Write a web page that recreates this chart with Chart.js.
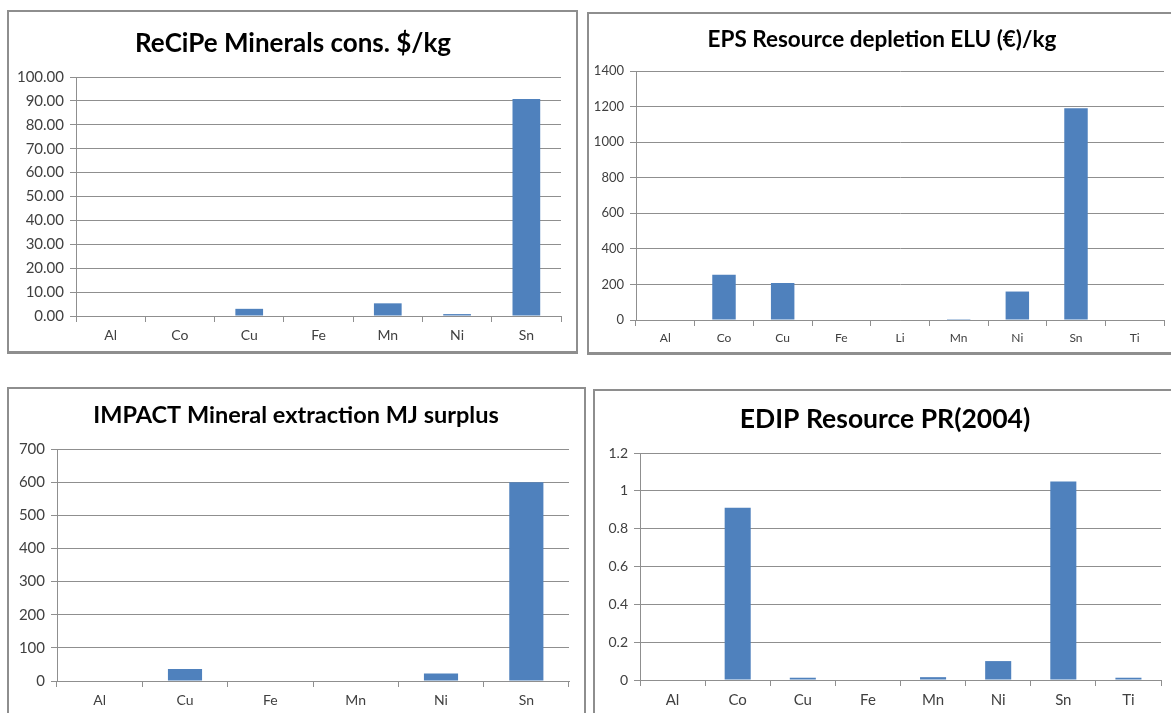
<!DOCTYPE html>
<html lang="en">
<head>
    <meta charset="UTF-8">
    <title>Mineral resource indicators</title>
    <script src="https://cdn.jsdelivr.net/npm/chart.js"></script>
    <style>
        body {
            margin: 0;
            width: 1171px;
            height: 713px;
            overflow: hidden;
            background: #ffffff;
            position: relative;
            font-family: Lato, "Liberation Sans", sans-serif;
        }
        .box {
            position: absolute;
            box-sizing: border-box;
            border: 2px solid #8e8e8e;
            border-bottom-width: 3px;
            background: #ffffff;
        }
        canvas {
            position: absolute;
        }
    </style>
</head>
<body>
    <div class="box" id="box1"></div>
    <div class="box" id="box2"></div>
    <div class="box" id="box3"></div>
    <div class="box" id="box4"></div>
    <canvas id="chart1"></canvas>
    <canvas id="chart2"></canvas>
    <canvas id="chart3"></canvas>
    <canvas id="chart4"></canvas>

    <script>
        // ReCiPe minerals consumption, $/kg
        const recipeLabels = ['Al', 'Co', 'Cu', 'Fe', 'Mn', 'Ni', 'Sn'];
        const recipeValues = [0, 0, 3.0, 0, 5.3, 0.8, 90.8];

        // EPS resource depletion, ELU (€)/kg
        const epsLabels = ['Al', 'Co', 'Cu', 'Fe', 'Li', 'Mn', 'Ni', 'Sn', 'Ti'];
        const epsValues = [0, 255, 208, 0, 0, 5, 160, 1190, 0];

        // IMPACT mineral extraction, MJ surplus
        const impactLabels = ['Al', 'Cu', 'Fe', 'Mn', 'Ni', 'Sn'];
        const impactValues = [0, 36, 0, 0, 23, 600];

        // EDIP resource, PR(2004)
        const edipLabels = ['Al', 'Co', 'Cu', 'Fe', 'Mn', 'Ni', 'Sn', 'Ti'];
        const edipValues = [0, 0.91, 0.012, 0, 0.015, 0.1, 1.05, 0.012];

        const barColor = '#4f81bd';
        const gridColor = '#8f8f8f';
        const tickColor = '#404040';

        // the y labels are clipped to the scale box, let them use the whole left margin
        const widenLabels = {
            id: 'widenLabels',
            afterLayout(chart) {
                chart.scales.y.left = 0;
            }
        };

        // box = frame on the page, plot = where the axes sit, title centre
        function makeChart(id, boxId, opts) {
            const box = opts.box;
            const W = box.r - box.l;
            const H = box.b - box.t;

            const frame = document.getElementById(boxId);
            frame.style.left = box.l + 'px';
            frame.style.top = box.t + 'px';
            frame.style.width = W + 'px';
            frame.style.height = H + 'px';

            const canvas = document.getElementById(id);
            canvas.width = W;
            canvas.height = H;
            canvas.style.left = box.l + 'px';
            canvas.style.top = box.t + 'px';
            canvas.style.width = W + 'px';
            canvas.style.height = H + 'px';

            const plotL = opts.plot.l - box.l;
            const plotR = opts.plot.r - box.l;
            const plotT = opts.plot.t - box.t;
            const plotB = opts.plot.b - box.t;
            const cx = opts.titleX - box.l;
            const cy = opts.titleY - box.t;

            const padL = 2 * cx - plotR;
            const padR = W - plotR;
            const yWidth = plotL - padL;
            const xHeight = 30;
            const padB = H - plotB - xHeight;
            const tTop = cy - 0.6 * opts.titleSize;
            const tBottom = plotT - tTop - 1.2 * opts.titleSize;

            return new Chart(canvas.getContext('2d'), {
                type: 'bar',
                data: {
                    labels: opts.labels,
                    datasets: [{
                        data: opts.values,
                        backgroundColor: barColor,
                        borderWidth: 0,
                        barPercentage: 0.4,
                        categoryPercentage: 1.0
                    }]
                },
                plugins: [widenLabels],
                options: {
                    responsive: false,
                    animation: false,
                    layout: {
                        padding: { left: padL, right: padR, top: 0, bottom: padB }
                    },
                    plugins: {
                        legend: { display: false },
                        tooltip: { enabled: false },
                        title: {
                            display: true,
                            text: opts.title,
                            color: '#000000',
                            font: { family: 'Lato', size: opts.titleSize, weight: 'bold', lineHeight: 1.2 },
                            padding: { top: tTop, bottom: tBottom }
                        }
                    },
                    scales: {
                        x: {
                            afterFit: (scale) => { scale.height = xHeight; },
                            grid: {
                                drawOnChartArea: false,
                                drawTicks: true,
                                tickLength: 6,
                                color: gridColor
                            },
                            border: { display: true, color: gridColor, width: 1 },
                            ticks: {
                                color: tickColor,
                                padding: 5,
                                font: { family: 'Lato', size: opts.xTickSize }
                            }
                        },
                        y: {
                            min: 0,
                            max: opts.yMax,
                            afterFit: (scale) => { scale.width = yWidth; },
                            grid: {
                                color: gridColor,
                                tickLength: 6
                            },
                            border: { display: true, color: gridColor, width: 1 },
                            ticks: {
                                stepSize: opts.yStep,
                                color: tickColor,
                                padding: 6,
                                font: { family: 'Lato', size: opts.yTickSize },
                                callback: opts.format
                            }
                        }
                    }
                }
            });
        }

        makeChart('chart1', 'box1', {
            labels: recipeLabels,
            values: recipeValues,
            title: 'ReCiPe Minerals cons. $/kg',
            titleSize: 26,
            xTickSize: 14,
            yTickSize: 15,
            yMax: 100,
            yStep: 10,
            format: (v) => Number(v).toFixed(2),
            box: { l: 7, t: 10, r: 578, b: 354 },
            plot: { l: 76, t: 77, r: 561, b: 316 },
            titleX: 293,
            titleY: 44
        });

        makeChart('chart2', 'box2', {
            labels: epsLabels,
            values: epsValues,
            title: 'EPS Resource depletion ELU (€)/kg',
            titleSize: 22.5,
            xTickSize: 12,
            yTickSize: 13,
            yMax: 1400,
            yStep: 200,
            format: (v) => String(Math.round(v)),
            box: { l: 587, t: 12, r: 1180, b: 355 },
            plot: { l: 636, t: 71, r: 1164, b: 320 },
            titleX: 882,
            titleY: 40
        });

        makeChart('chart3', 'box3', {
            labels: impactLabels,
            values: impactValues,
            title: 'IMPACT Mineral extraction MJ surplus',
            titleSize: 23.5,
            xTickSize: 14,
            yTickSize: 15,
            yMax: 700,
            yStep: 100,
            format: (v) => String(Math.round(v)),
            box: { l: 7, t: 387, r: 586, b: 720 },
            plot: { l: 57, t: 449, r: 569, b: 681 },
            titleX: 296,
            titleY: 415
        });

        makeChart('chart4', 'box4', {
            labels: edipLabels,
            values: edipValues,
            title: 'EDIP Resource PR(2004)',
            titleSize: 26.5,
            xTickSize: 15,
            yTickSize: 14,
            yMax: 1.2,
            yStep: 0.2,
            format: (v) => String(Math.round(v * 10) / 10),
            box: { l: 593, t: 389, r: 1180, b: 720 },
            plot: { l: 640, t: 453, r: 1161, b: 680 },
            titleX: 885,
            titleY: 419
        });
    </script>
</body>
</html>
